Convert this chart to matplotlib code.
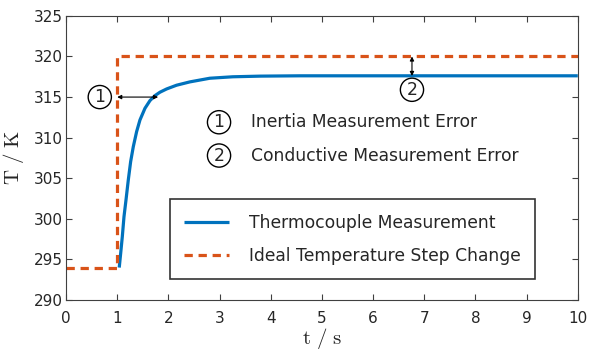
import matplotlib
matplotlib.use("Agg")
import matplotlib.pyplot as plt

plt.rcParams["mathtext.fontset"] = "cm"

# Data
t_meas = [1.04, 1.068, 1.10, 1.133, 1.172, 1.217, 1.263, 1.315, 1.38, 1.445, 1.543, 1.641, 1.738,
          1.836, 1.966, 2.16, 2.42, 2.81, 3.26, 3.8, 4.57, 10]
T_meas = [294.0, 295.75, 297.8, 300.27, 302.32, 304.79, 307.05, 308.9, 310.75, 312.18, 313.62, 314.57,
          315.18, 315.6, 316.0, 316.46, 316.87, 317.32, 317.5, 317.58, 317.62, 317.62]
t_ideal = [0, 1, 1, 10]
T_ideal = [294, 294, 320, 320]
x_ticks = list(range(0, 11))
y_ticks = [290, 295, 300, 305, 310, 315, 320, 325]
legend_labels = ["Thermocouple Measurement", "Ideal Temperature Step Change"]
notes = ["Inertia Measurement Error", "Conductive Measurement Error"]

blue = "#0072BD"
orange = "#D95319"
axc = "#262626"

fig = plt.figure(figsize=(5.92, 3.53), dpi=100)
ax = fig.add_axes([0.1115, 0.150, 0.8645, 0.805])

l1, = ax.plot(t_meas, T_meas, color=blue, lw=2.3, label=legend_labels[0], solid_capstyle="butt")
l2, = ax.plot(t_ideal, T_ideal, color=orange, lw=2.3, ls=(0, (2.6, 1.8)), label=legend_labels[1])

ax.set_xlim(0, 10)
ax.set_ylim(290, 325)
ax.set_xticks(x_ticks)
ax.set_yticks(y_ticks)
ax.tick_params(direction="in", top=True, right=True, labelsize=11, colors="#404040",
               labelcolor=axc, length=4, width=0.8)
ax.tick_params(axis="x", pad=8)
ax.tick_params(axis="y", pad=2)
for s in ax.spines.values():
    s.set_color("#404040")
    s.set_linewidth(0.8)

ax.set_xlabel(r"$\mathrm{t\ /\ s}$", fontsize=15, color=axc, labelpad=0)
ax.set_ylabel(r"$\mathrm{T\ /\ K}$", fontsize=15, color=axc, labelpad=6)

circ = dict(boxstyle="circle,pad=0.15", fc="white", ec="black", lw=1.0)

# Inertia error arrow
ax.annotate("", xy=(1.0, 315), xytext=(1.8, 315),
            arrowprops=dict(arrowstyle="<|-|>", color="black", lw=0.8, mutation_scale=6, shrinkA=0, shrinkB=0))
ax.text(0.66, 315.0, "1", fontsize=12.5, ha="center", va="center", bbox=circ, color=axc)

# Conductive error arrow
ax.annotate("", xy=(6.76, 320), xytext=(6.76, 317.6),
            arrowprops=dict(arrowstyle="<|-|>", color="black", lw=0.8, mutation_scale=6, shrinkA=0, shrinkB=0))
ax.text(6.76, 315.9, "2", fontsize=12.5, ha="center", va="center", bbox=circ, color=axc)

# Notes
ax.text(2.99, 311.9, "1", fontsize=12.5, ha="center", va="center", bbox=circ, color=axc)
ax.text(3.61, 311.9, notes[0], fontsize=12.3, ha="left", va="center", color=axc)
ax.text(2.99, 307.8, "2", fontsize=12.5, ha="center", va="center", bbox=circ, color=axc)
ax.text(3.61, 307.8, notes[1], fontsize=12.3, ha="left", va="center", color=axc)

leg = ax.legend(handles=[l1, l2], loc="lower left", bbox_to_anchor=(0.203, 0.074, 0.713, 0.282),
                mode="expand", fontsize=12.3, frameon=True, fancybox=False, handlelength=2.6,
                borderpad=0.85, labelspacing=0.85, handletextpad=1.2, borderaxespad=0)
leg.get_frame().set_edgecolor("black")
leg.get_frame().set_linewidth(1.2)
for txt in leg.get_texts():
    txt.set_color(axc)

fig.savefig("out.png", dpi=100)
